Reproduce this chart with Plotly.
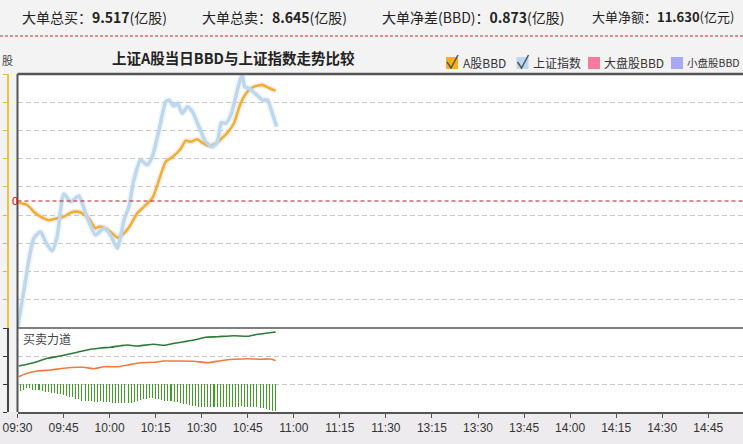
import plotly.graph_objects as go

# ---------------- data ----------------
# time in minutes since 09:30 (trading minutes)
bbd_minutes = [0.1, 3.2, 5.3, 7.5, 10.2, 12.9, 15.1, 17.3, 19.5, 21.1, 23.2, 25.4, 26.5, 28.7,
               30.9, 32.5, 34.7, 36.8, 39.0, 41.2, 43.9, 46.1, 48.3, 50.4, 53.1, 54.8, 56.4,
               58.6, 60.2, 62.4, 64.6, 66.2, 68.4, 70.5, 72.7, 74.9, 77.0, 79.8, 81.4, 84.1]
bbd_values = [-0.014, -0.032, -0.085, -0.125, -0.152, -0.138, -0.125, -0.093, -0.085, -0.098,
              -0.138, -0.218, -0.205, -0.218, -0.258, -0.290, -0.258, -0.191, -0.098, -0.045,
              0.022, 0.168, 0.314, 0.349, 0.415, 0.481, 0.473, 0.492, 0.465, 0.439, 0.460,
              0.492, 0.545, 0.620, 0.780, 0.872, 0.912, 0.926, 0.907, 0.878]

idx_minutes = [0.1, 2.1, 3.7, 5.3, 7.5, 9.1, 11.3, 12.9, 15.1, 17.3, 20.0, 22.2, 25.4, 28.1,
               30.3, 32.5, 34.7, 36.3, 37.9, 40.1, 42.3, 43.9, 46.1, 48.3, 49.3, 50.9, 52.1,
               53.7, 55.3, 57.0, 59.1, 61.3, 63.5, 65.1, 66.4, 67.8, 69.5, 71.1, 72.7, 73.3,
               74.0, 75.4, 77.6, 79.8, 81.4, 83.0, 84.4]
idx_values = [2296.18, 2301.39, 2305.64, 2308.71, 2309.65, 2308.23, 2306.96, 2308.94, 2314.99,
              2313.90, 2314.71, 2312.26, 2309.18, 2310.13, 2309.18, 2307.30, 2311.31, 2313.19,
              2316.97, 2319.81, 2319.10, 2320.28, 2324.06, 2328.07, 2328.31, 2327.46, 2327.85,
              2326.43, 2327.36, 2326.65, 2324.53, 2322.40, 2321.69, 2322.40, 2325.10, 2325.01,
              2326.19, 2328.78, 2331.39, 2331.62, 2330.20, 2329.97, 2329.16, 2328.31, 2328.31,
              2326.43, 2324.53]

buy_minutes = [0.4, 3.2, 6.4, 9.7, 14.0, 19.5, 23.8, 27.1, 30.3, 33.6, 35.8, 39.0, 44.4, 47.7,
               51.0, 54.2, 57.5, 61.3, 65.1, 70.5, 74.9, 78.2, 81.4, 84.1]
buy_values = [0.643, 0.704, 0.796, 0.918, 1.000, 1.132, 1.239, 1.286, 1.311, 1.368, 1.393,
              1.357, 1.418, 1.382, 1.454, 1.511, 1.571, 1.668, 1.689, 1.725, 1.704, 1.775,
              1.821, 1.857]

sell_minutes = [0.4, 3.2, 6.4, 10.8, 15.1, 19.5, 21.6, 24.9, 28.1, 32.5, 35.8, 40.1, 44.4,
                47.7, 53.1, 57.5, 61.9, 66.2, 70.5, 74.9, 79.2, 82.5, 84.1]
sell_values = [0.261, 0.382, 0.464, 0.500, 0.561, 0.596, 0.596, 0.546, 0.618, 0.618, 0.679,
               0.761, 0.775, 0.821, 0.821, 0.811, 0.761, 0.832, 0.882, 0.904, 0.882, 0.893,
               0.832]

bar_minutes = list(range(85))
bar_values = [-0.27, -0.24, -0.20, -0.15, -0.16, -0.20, -0.21, -0.22, -0.24, -0.27,
              -0.30, -0.31, -0.33, -0.35, -0.37, -0.39, -0.42, -0.45, -0.48, -0.52,
              -0.55, -0.59, -0.60, -0.61, -0.62, -0.63, -0.63, -0.62, -0.63, -0.63,
              -0.65, -0.67, -0.69, -0.69, -0.68, -0.68, -0.67, -0.67, -0.63, -0.60,
              -0.56, -0.54, -0.52, -0.50, -0.51, -0.53, -0.55, -0.57, -0.59, -0.60,
              -0.62, -0.63, -0.65, -0.68, -0.70, -0.72, -0.75, -0.77, -0.79, -0.81,
              -0.82, -0.83, -0.83, -0.83, -0.83, -0.82, -0.83, -0.83, -0.83, -0.82,
              -0.81, -0.81, -0.81, -0.80, -0.81, -0.81, -0.81, -0.81, -0.83, -0.85,
              -0.87, -0.89, -0.92, -0.95, -0.97]

tick_minutes = [0, 15, 30, 45, 60, 75, 90, 105, 120, 135, 150, 165, 180, 195, 210, 225]
tick_labels = ["09:30", "09:45", "10:00", "10:15", "10:30", "10:45", "11:00", "11:15",
               "11:30", "13:15", "13:30", "13:45", "14:00", "14:15", "14:30", "14:45"]

header_items = [("大单总买：", "9.517", "(亿股)"),
                ("大单总卖：", "8.645", "(亿股)"),
                ("大单净差(BBD)：", "0.873", "(亿股)"),
                ("大单净额：", "11.630", "(亿元)")]

legend_names = ["A股BBD", "上证指数", "大盘股BBD", "小盘股BBD"]
legend_colors = ["#f5b020", "#b8d8f4", "#f57c9c", "#a8a8f5"]

# ---------------- geometry helpers ----------------
W, H = 743, 444
ML, MT, MB = 8, 74, 32
PW, PH = W - ML, H - MT - MB


def px(xp):
    return (xp - ML) / PW


def py(yp):
    return (H - MB - yp) / PH


X0 = px(17.5)
SPLIT = py(328)
PXMIN = 3.07
XR = (W - 17.5) / PXMIN

BBD_DIV = 0.225
BBD_R = 4.5 * BBD_DIV
bbd_ticks = [-BBD_R + k * BBD_DIV for k in range(10)]

FONT_CJK = "Noto Sans CJK SC"

fig = go.Figure()

# shadows
fig.add_trace(go.Scatter(x=bbd_minutes, y=bbd_values, mode="lines", xaxis="x", yaxis="y",
                         line=dict(color="rgba(220,130,130,0.13)", width=6, shape="spline", smoothing=0.6),
                         hoverinfo="skip", showlegend=False))
fig.add_trace(go.Scatter(x=idx_minutes, y=idx_values, mode="lines", xaxis="x", yaxis="y2",
                         line=dict(color="rgba(150,170,200,0.10)", width=7, shape="spline", smoothing=0.6),
                         hoverinfo="skip", showlegend=False))
# main lines
fig.add_trace(go.Scatter(x=bbd_minutes, y=bbd_values, mode="lines", name="A股BBD",
                         xaxis="x", yaxis="y",
                         line=dict(color="#f0b030", width=2.6, shape="spline", smoothing=0.6),
                         showlegend=False))
fig.add_trace(go.Scatter(x=idx_minutes, y=idx_values, mode="lines", name="上证指数",
                         xaxis="x", yaxis="y2",
                         line=dict(color="#bcd8ef", width=3.6, shape="spline", smoothing=0.6),
                         showlegend=False))
# lower panel
fig.add_trace(go.Bar(x=bar_minutes, y=bar_values, xaxis="x2", yaxis="y3", width=0.34,
                     marker=dict(color="#3f9f22", line=dict(width=0)), showlegend=False))
fig.add_trace(go.Scatter(x=buy_minutes, y=buy_values, mode="lines", xaxis="x2", yaxis="y3",
                         line=dict(color="#2e7a3a", width=1.6, shape="spline", smoothing=0.6),
                         showlegend=False))
fig.add_trace(go.Scatter(x=sell_minutes, y=sell_values, mode="lines", xaxis="x2", yaxis="y3",
                         line=dict(color="#f07a40", width=1.6, shape="spline", smoothing=0.6),
                         showlegend=False))

grid_common = dict(showgrid=True, gridcolor="#c8c8c8", gridwidth=1, griddash="5px,3px")

fig.update_layout(
    width=W, height=H,
    autosize=False,
    margin=dict(l=ML, r=0, t=MT, b=MB, pad=0, autoexpand=False),
    paper_bgcolor="#f4f3f4",
    plot_bgcolor="#ffffff",
    bargap=0,
    hovermode=False,
    xaxis=dict(domain=[X0, 1], range=[0, XR], anchor="y", showticklabels=False,
               showgrid=False, zeroline=False, showline=False, ticks="", automargin=False),
    xaxis2=dict(domain=[X0, 1], range=[0, XR], anchor="y3", matches="x",
                tickvals=tick_minutes, ticktext=tick_labels, ticks="outside", ticklen=4,
                tickcolor="#555555", showline=True, linecolor="#555555", linewidth=2,
                showgrid=False, zeroline=False, automargin=False,
                tickfont=dict(family="Liberation Sans, Arial", size=12, color="#333333")),
    yaxis=dict(domain=[SPLIT, 1], range=[-BBD_R, BBD_R], anchor="free", position=0,
               tickvals=bbd_ticks, ticks="outside", ticklen=4, tickcolor="#e8b830",
               showline=True, linecolor="#f0c040", linewidth=2, showticklabels=False,
               zeroline=False, automargin=False, **grid_common),
    yaxis2=dict(range=[2296, 2332], overlaying="y", visible=False, showgrid=False),
    yaxis3=dict(domain=[0, SPLIT], range=[-1, 2], anchor="free", position=0,
                tickvals=[-1, 0, 1, 2], ticks="outside", ticklen=4, tickcolor="#333333",
                showline=True, linecolor="#444444", linewidth=2, showticklabels=False,
                zeroline=False, automargin=False, **grid_common),
)

shapes = []
# bottom band
shapes.append(dict(type="rect", xref="paper", yref="paper", x0=px(0), x1=px(W), y0=py(H), y1=py(412),
                   fillcolor="#eeebee", line=dict(width=0), layer="below"))
# zero line of BBD
shapes.append(dict(type="line", xref="paper", yref="y", x0=X0, x1=1, y0=0, y1=0,
                   line=dict(color="#b81c1c", width=1, dash="4px,3px")))
# borders
shapes.append(dict(type="line", xref="paper", yref="paper", x0=X0, x1=1, y0=1, y1=1,
                   line=dict(color="#555555", width=2.5)))
shapes.append(dict(type="line", xref="paper", yref="paper", x0=X0, x1=X0, y0=0, y1=1,
                   line=dict(color="#555555", width=2)))
shapes.append(dict(type="line", xref="paper", yref="paper", x0=X0, x1=1, y0=SPLIT, y1=SPLIT,
                   line=dict(color="#555555", width=1.5)))
# header dashed red line
shapes.append(dict(type="line", xref="paper", yref="paper", x0=px(0), x1=px(W), y0=py(36), y1=py(36),
                   line=dict(color="#c03030", width=1, dash="3px,2px")))

annotations = []
# header texts
header_x = [20, 200, 380, 590]
header_size = [14, 14, 14, 13]
for (lab, num, unit), hx, hs in zip(header_items, header_x, header_size):
    annotations.append(dict(xref="paper", yref="paper", x=px(hx), y=py(17), xanchor="left",
                            yanchor="middle", showarrow=False,
                            text=f"{lab}<b>{num}</b>{unit}",
                            font=dict(family=FONT_CJK, size=hs, color="#222222")))
# title
annotations.append(dict(xref="paper", yref="paper", x=px(233), y=py(58), xanchor="center",
                        yanchor="middle", showarrow=False,
                        text="<b>上证A股当日BBD与上证指数走势比较</b>",
                        font=dict(family=FONT_CJK, size=14.5, color="#222222")))
# unit label at the very left
annotations.append(dict(xref="paper", yref="paper", x=px(0), y=py(60), xanchor="left",
                        yanchor="middle", showarrow=False, text="股",
                        font=dict(family=FONT_CJK, size=11, color="#444444")))
# zero label
annotations.append(dict(xref="paper", yref="y", x=px(9.5), y=0, xanchor="left",
                        yanchor="middle", showarrow=False, text="0",
                        font=dict(family="Liberation Sans, Arial", size=11, color="#cc0000")))
# lower panel label
annotations.append(dict(xref="paper", yref="paper", x=px(21), y=py(338), xanchor="left",
                        yanchor="middle", showarrow=False, text="买卖力道",
                        font=dict(family=FONT_CJK, size=12, color="#444444")))

# custom legend
leg_box_x = [446, 516.5, 588, 671]
leg_text_x = [461, 531, 602, 685]
leg_size = [12, 12, 12, 10.5]
for i, (name, col) in enumerate(zip(legend_names, legend_colors)):
    bx = leg_box_x[i]
    shapes.append(dict(type="rect", xref="paper", yref="paper", x0=px(bx), x1=px(bx + 12),
                       y0=py(69), y1=py(57), fillcolor=col, line=dict(width=0)))
    if i < 2:
        shapes.append(dict(type="path", xref="paper", yref="paper",
                           path=f"M {px(bx + 1)} {py(62)} L {px(bx + 5)} {py(68)} L {px(bx + 12)} {py(55)}",
                           line=dict(color="#555555", width=1.5)))
    annotations.append(dict(xref="paper", yref="paper", x=px(leg_text_x[i]), y=py(63),
                            xanchor="left", yanchor="middle", showarrow=False, text=name,
                            font=dict(family=FONT_CJK, size=leg_size[i], color="#333333")))

fig.update_layout(shapes=shapes, annotations=annotations)

fig.write_html("out.html",
               config={"displayModeBar": False, "staticPlot": True},
               post_script="document.body.style.margin='0';document.body.style.padding='0';")
